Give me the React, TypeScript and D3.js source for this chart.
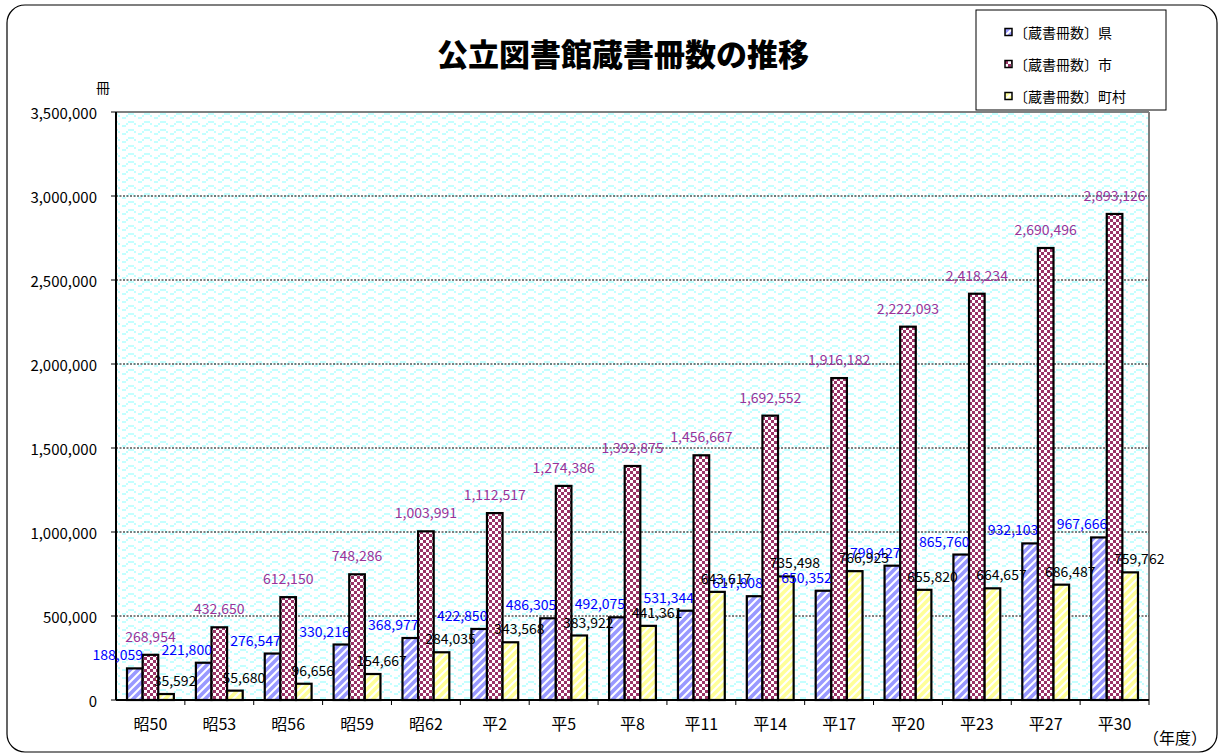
import * as d3 from "d3";

const categories = ["昭50", "昭53", "昭56", "昭59", "昭62", "平2", "平5", "平8", "平11", "平14", "平17", "平20", "平23", "平27", "平30"];
const prefValues = [188059, 221800, 276547, 330216, 368977, 422850, 486305, 492075, 531344, 617808, 650352, 799427, 865760, 932103, 967666];
const cityValues = [268954, 432650, 612150, 748286, 1003991, 1112517, 1274386, 1392875, 1456667, 1692552, 1916182, 2222093, 2418234, 2690496, 2893126];
const townValues = [35592, 55680, 96656, 154667, 284035, 343568, 383922, 441361, 643617, 735498, 766923, 655820, 664657, 686487, 759762];
const yTicks = [0, 500000, 1000000, 1500000, 2000000, 2500000, 3000000, 3500000];

const seriesNames = ["〔蔵書冊数〕県", "〔蔵書冊数〕市", "〔蔵書冊数〕町村"];

const FONT = "'Noto Sans CJK JP', 'Noto Sans', sans-serif";

// per-series look: fill pattern, label colour, label offset
const look = [
  { key: "pref", fill: "url(#pBlue)", color: "#0000ff", dx: -17, dy: -14, values: prefValues },
  { key: "city", fill: "url(#pCheck)", color: "#993399", dx: 0, dy: -19, values: cityValues },
  { key: "town", fill: "url(#pYellow)", color: "#000000", dx: 9, dy: -14, values: townValues },
];

export default function App() {
  const W = 1219, H = 754;
  const plot = { left: 116, right: 1149, top: 112, bottom: 700 };

  const x0 = d3.scaleBand<string>().domain(categories).range([plot.left, plot.right]);
  const step = x0.step();
  const x1 = d3.scaleBand<string>().domain(look.map(s => s.key)).range([step * 0.16, step * 0.84]);
  const y = d3.scaleLinear().domain([0, 3500000]).range([plot.bottom, plot.top]);
  const fmt = d3.format(",");

  return (
    <svg width={W} height={H} style={{ position: "absolute", left: 0, top: 0 }} fontFamily={FONT}>
      <defs>
        <pattern id="pWave" width={16} height={8} patternUnits="userSpaceOnUse">
          <rect width={16} height={8} fill="#fff" />
          <rect x={0} y={1} width={6} height={2} fill="#c4ffff" />
          <rect x={6} y={3} width={2} height={2} fill="#c4ffff" />
          <rect x={10} y={5} width={4} height={2} fill="#c4ffff" />
          <rect x={14} y={3} width={2} height={2} fill="#c4ffff" />
        </pattern>
        <pattern id="pBlue" width={8} height={8} patternUnits="userSpaceOnUse">
          <rect width={8} height={8} fill="#fff" />
          <path d="M-2,2 L2,-2 M0,8 L8,0 M6,10 L10,6" stroke="#9999ff" strokeWidth={3.6} />
        </pattern>
        <pattern id="pYellow" width={8} height={8} patternUnits="userSpaceOnUse">
          <rect width={8} height={8} fill="#fff" />
          <path d="M-2,2 L2,-2 M0,8 L8,0 M6,10 L10,6" stroke="#ffff99" strokeWidth={3.6} />
        </pattern>
        <pattern id="pCheck" width={6} height={6} patternUnits="userSpaceOnUse">
          <rect width={6} height={6} fill="#993366" />
          <rect x={0} y={0} width={3} height={3} fill="#fff" />
          <rect x={3} y={3} width={3} height={3} fill="#fff" />
        </pattern>
      </defs>

      {/* outer frame */}
      <rect x={7} y={5} width={1210} height={747} rx={18} ry={18} fill="#fff" stroke="#000" strokeWidth={1.2} />

      {/* title */}
      <text x={623} y={52} textAnchor="middle" dominantBaseline="central" fontSize={31} fontWeight={900}>
        公立図書館蔵書冊数の推移
      </text>

      {/* plot area */}
      <rect x={plot.left} y={plot.top} width={plot.right - plot.left} height={plot.bottom - plot.top} fill="url(#pWave)" />
      <line x1={plot.left} x2={plot.right} y1={plot.top} y2={plot.top} stroke="#808080" strokeWidth={2} />
      <line x1={plot.right} x2={plot.right} y1={plot.top} y2={plot.bottom} stroke="#808080" strokeWidth={2} />

      {/* grid */}
      {yTicks.slice(1, -1).map(t => (
        <line key={t} x1={plot.left} x2={plot.right} y1={y(t)} y2={y(t)} stroke="#000" strokeWidth={1} strokeDasharray="2,1.5" />
      ))}

      {/* y axis */}
      <line x1={plot.left} x2={plot.left} y1={plot.top} y2={plot.bottom} stroke="#000" strokeWidth={2} />
      {yTicks.map(t => (
        <g key={t}>
          <line x1={plot.left - 5} x2={plot.left} y1={y(t)} y2={y(t)} stroke="#000" />
          <text x={97} y={y(t)} textAnchor="end" dominantBaseline="central" fontSize={15}>{fmt(t)}</text>
        </g>
      ))}
      <text x={103} y={87} textAnchor="middle" dominantBaseline="central" fontSize={14}>冊</text>

      {/* bars */}
      {look.map(s => (
        <g key={s.key}>
          {categories.map((c, i) => (
            <rect key={c} x={(x0(c) ?? 0) + (x1(s.key) ?? 0)} y={y(s.values[i])} width={x1.bandwidth()}
              height={plot.bottom - y(s.values[i])} fill={s.fill} stroke="#000" strokeWidth={2.2} />
          ))}
        </g>
      ))}

      {/* x axis */}
      <line x1={plot.left} x2={plot.right} y1={plot.bottom} y2={plot.bottom} stroke="#000" strokeWidth={2} />
      {categories.map((c, i) => (
        <line key={"t" + c} x1={plot.left + step * (i + 1)} x2={plot.left + step * (i + 1)} y1={plot.bottom} y2={plot.bottom + 5} stroke="#000" />
      ))}
      {categories.map(c => (
        <text key={"l" + c} x={(x0(c) ?? 0) + step / 2} y={723} textAnchor="middle" dominantBaseline="central" fontSize={16}>{c}</text>
      ))}
      <text x={1175} y={737} textAnchor="middle" dominantBaseline="central" fontSize={16}>（年度）</text>

      {/* data labels */}
      {look.map(s => (
        <g key={"dl" + s.key}>
          {categories.map((c, i) => (
            <text key={c} x={(x0(c) ?? 0) + (x1(s.key) ?? 0) + x1.bandwidth() / 2 + s.dx} y={y(s.values[i]) + s.dy}
              textAnchor="middle" dominantBaseline="central" fontSize={14} fill={s.color}>
              {fmt(s.values[i])}
            </text>
          ))}
        </g>
      ))}

      {/* legend */}
      <rect x={976} y={10} width={190} height={100} fill="#fff" stroke="#000" strokeWidth={1} />
      {look.map((s, i) => (
        <g key={"lg" + s.key} transform={`translate(1005,${32 + i * 32})`}>
          <rect x={0} y={-3.5} width={7} height={7} fill={s.fill} stroke="#000" strokeWidth={1.5} />
          <text x={9} y={0} dominantBaseline="central" fontSize={14}>{seriesNames[i]}</text>
        </g>
      ))}
    </svg>
  );
}
